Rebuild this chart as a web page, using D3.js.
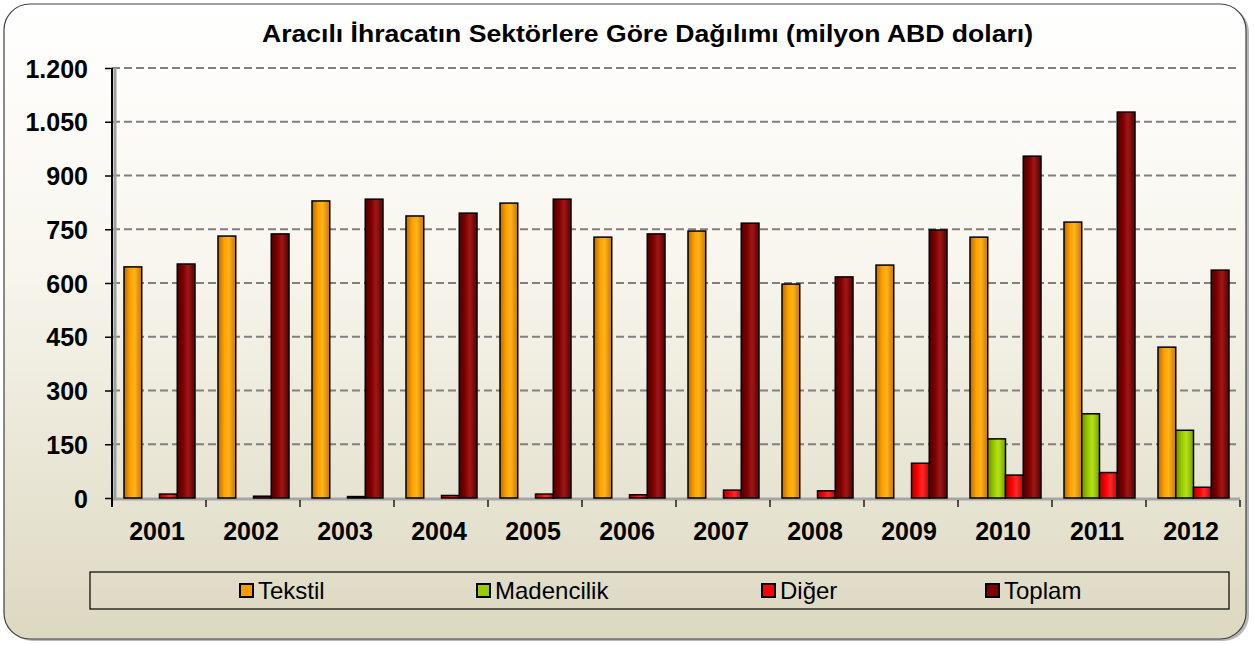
<!DOCTYPE html>
<html>
<head>
<meta charset="utf-8">
<script src="https://cdn.jsdelivr.net/npm/d3@7"></script>
<style>
  body { margin: 0; background: #fff; }
  svg { display: block; font-family: "Liberation Sans", Arial, sans-serif; }
</style>
</head>
<body>
<div id="chart"></div>
<script>
// data
var years = ["2001","2002","2003","2004","2005","2006","2007","2008","2009","2010","2011","2012"];
var tekstil    = [645, 731, 829, 787, 823, 728, 745, 597, 650, 728, 770, 421];
var madencilik = [0, 0, 0, 0, 0, 0, 0, 0, 0, 165, 235, 189];
var diger      = [11, 5, 4, 7, 11, 9, 22, 20, 97, 64, 71, 30];
var toplam     = [653, 737, 834, 795, 834, 737, 767, 617, 748, 954, 1077, 636];
var seriesNames = ["Tekstil", "Madencilik", "Diğer", "Toplam"];
var yTicks = [0, 150, 300, 450, 600, 750, 900, 1050, 1200];

var W = 1254, H = 645;
var margin = { top: 68, left: 112, right: 14, bottom: 147 };
var plotW = W - margin.left - margin.right,
    plotH = H - margin.top - margin.bottom;

var svg = d3.select("#chart").append("svg")
    .attr("width", W)
    .attr("height", H);

var defs = svg.append("defs");

// background gradient
var bg = defs.append("linearGradient").attr("id", "bg")
    .attr("x1", 0).attr("y1", 0).attr("x2", 0).attr("y2", 1);
bg.append("stop").attr("offset", "0%").attr("stop-color", "#ffffff");
bg.append("stop").attr("offset", "40%").attr("stop-color", "#f8f6ee");
bg.append("stop").attr("offset", "100%").attr("stop-color", "#dcd8c1");

// bar gradients, cylinder look
var colors = [
    ["#b86a00", "#ffa200", "#ffb21a", "#c77800"],
    ["#6a8f00", "#99cc00", "#b5e21a", "#78a000"],
    ["#b00000", "#ff0000", "#ff2a2a", "#c00000"],
    ["#4a0000", "#800000", "#a01818", "#580000"]
];
colors.forEach(function (c, i) {
    var g = defs.append("linearGradient").attr("id", "bar" + i)
        .attr("x1", 0).attr("y1", 0).attr("x2", 1).attr("y2", 0);
    g.append("stop").attr("offset", "0%").attr("stop-color", c[0]);
    g.append("stop").attr("offset", "35%").attr("stop-color", c[1]);
    g.append("stop").attr("offset", "60%").attr("stop-color", c[2]);
    g.append("stop").attr("offset", "100%").attr("stop-color", c[3]);
});
var legendColors = ["#ff9900", "#99cc00", "#ff0000", "#800000"];

// outer frame
svg.append("rect")
    .attr("x", 7).attr("y", 6)
    .attr("width", W - 12).attr("height", H - 10)
    .attr("rx", 26).attr("ry", 26)
    .attr("fill", "#888").attr("opacity", 0.6);
svg.append("rect")
    .attr("x", 4).attr("y", 4)
    .attr("width", W - 12).attr("height", H - 10)
    .attr("rx", 26).attr("ry", 26)
    .attr("fill", "url(#bg)")
    .attr("stroke", "#404040")
    .attr("stroke-width", 1.2);

// title
svg.append("text")
    .attr("x", 262).attr("y", 42)
    .attr("textLength", 771)
    .attr("lengthAdjust", "spacingAndGlyphs")
    .style("font-size", "24px")
    .style("font-weight", "bold")
    .text("Aracılı İhracatın Sektörlere Göre Dağılımı (milyon ABD doları)");

var g = svg.append("g")
    .attr("transform", "translate(" + margin.left + "," + margin.top + ")");

var x0 = d3.scaleBand().domain(years).range([0, plotW]).padding(0);
var x1 = d3.scaleBand().domain(seriesNames).range([12, x0.bandwidth() - 11]).padding(0);
var y = d3.scaleLinear().domain([0, 1200]).range([plotH, 0]);

// grid lines
g.append("g").selectAll("line")
    .data(yTicks.filter(function (d) { return d > 0; }))
    .enter().append("line")
    .attr("x1", 0).attr("x2", plotW)
    .attr("y1", function (d) { return y(d); })
    .attr("y2", function (d) { return y(d); })
    .attr("stroke", "#808080")
    .attr("stroke-width", 2)
    .attr("stroke-dasharray", "8,4");

// floor line
g.append("line")
    .attr("x1", 0).attr("x2", plotW)
    .attr("y1", plotH + 1).attr("y2", plotH + 1)
    .attr("stroke", "#a6a6a6").attr("stroke-width", 3);

// bars
var table = years.map(function (yr, i) {
    return { year: yr, vals: [tekstil[i], madencilik[i], diger[i], toplam[i]] };
});

var groups = g.append("g").selectAll("g")
    .data(table)
    .enter().append("g")
    .attr("transform", function (d) { return "translate(" + x0(d.year) + ",0)"; });

groups.selectAll("rect")
    .data(function (d) {
        return d.vals.map(function (v, k) { return { key: seriesNames[k], k: k, v: v }; });
    })
    .enter().append("rect")
    .attr("x", function (d) { return x1(d.key); })
    .attr("width", x1.bandwidth())
    .attr("y", function (d) { return y(d.v); })
    .attr("height", function (d) { return plotH - y(d.v); })
    .attr("fill", function (d) { return "url(#bar" + d.k + ")"; })
    .attr("stroke", "#000")
    .attr("stroke-width", function (d) { return d.v > 0 ? 1.5 : 1; });

// y axis
var yAxis = g.append("g")
    .call(d3.axisLeft(y).tickValues(yTicks).tickSize(7)
        .tickFormat(function (d) { return d3.format(",")(d).replace(",", "."); }));
yAxis.select(".domain").remove();
yAxis.selectAll(".tick line").attr("stroke", "#000").attr("stroke-width", 1.5);
yAxis.selectAll(".tick text")
    .attr("x", -24)
    .attr("dy", "0.36em")
    .style("font-size", "25px")
    .style("font-weight", "bold")
    .attr("fill", "#000");

// axis line with shadow
g.append("line")
    .attr("x1", 3).attr("x2", 3).attr("y1", 0).attr("y2", plotH + 2)
    .attr("stroke", "#a0a0a0").attr("stroke-width", 3);
g.append("line")
    .attr("x1", 0).attr("x2", 0).attr("y1", 0).attr("y2", plotH + 9)
    .attr("stroke", "#000").attr("stroke-width", 2);

// x axis: ticks at group boundaries
var bounds = years.map(function (d) { return x0(d); }).concat([plotW]);
g.append("g").selectAll("line")
    .data(bounds)
    .enter().append("line")
    .attr("x1", function (d) { return d; })
    .attr("x2", function (d) { return d; })
    .attr("y1", plotH + 2).attr("y2", plotH + 9)
    .attr("stroke", "#000").attr("stroke-width", 1.3);

g.append("g").selectAll("text")
    .data(years)
    .enter().append("text")
    .attr("x", function (d) { return x0(d) + x0.bandwidth() / 2 - 2; })
    .attr("y", plotH + 42)
    .attr("text-anchor", "middle")
    .style("font-size", "25px")
    .style("font-weight", "bold")
    .text(function (d) { return d; });

// legend
var legend = svg.append("g");
legend.append("rect")
    .attr("x", 90).attr("y", 572)
    .attr("width", 1139).attr("height", 37)
    .attr("fill", "none")
    .attr("stroke", "#000")
    .attr("stroke-width", 1.2);

var legendX = [240, 477, 762, 986];
var items = legend.selectAll("g.item")
    .data(seriesNames)
    .enter().append("g")
    .attr("class", "item")
    .attr("transform", function (d, i) { return "translate(" + legendX[i] + ",584)"; });
items.append("rect")
    .attr("width", 13).attr("height", 13)
    .attr("fill", function (d, i) { return legendColors[i]; })
    .attr("stroke", "#000")
    .attr("stroke-width", 2);
items.append("text")
    .attr("x", 18).attr("y", 15)
    .style("font-size", "24px")
    .text(function (d) { return d; });
</script>
</body>
</html>
